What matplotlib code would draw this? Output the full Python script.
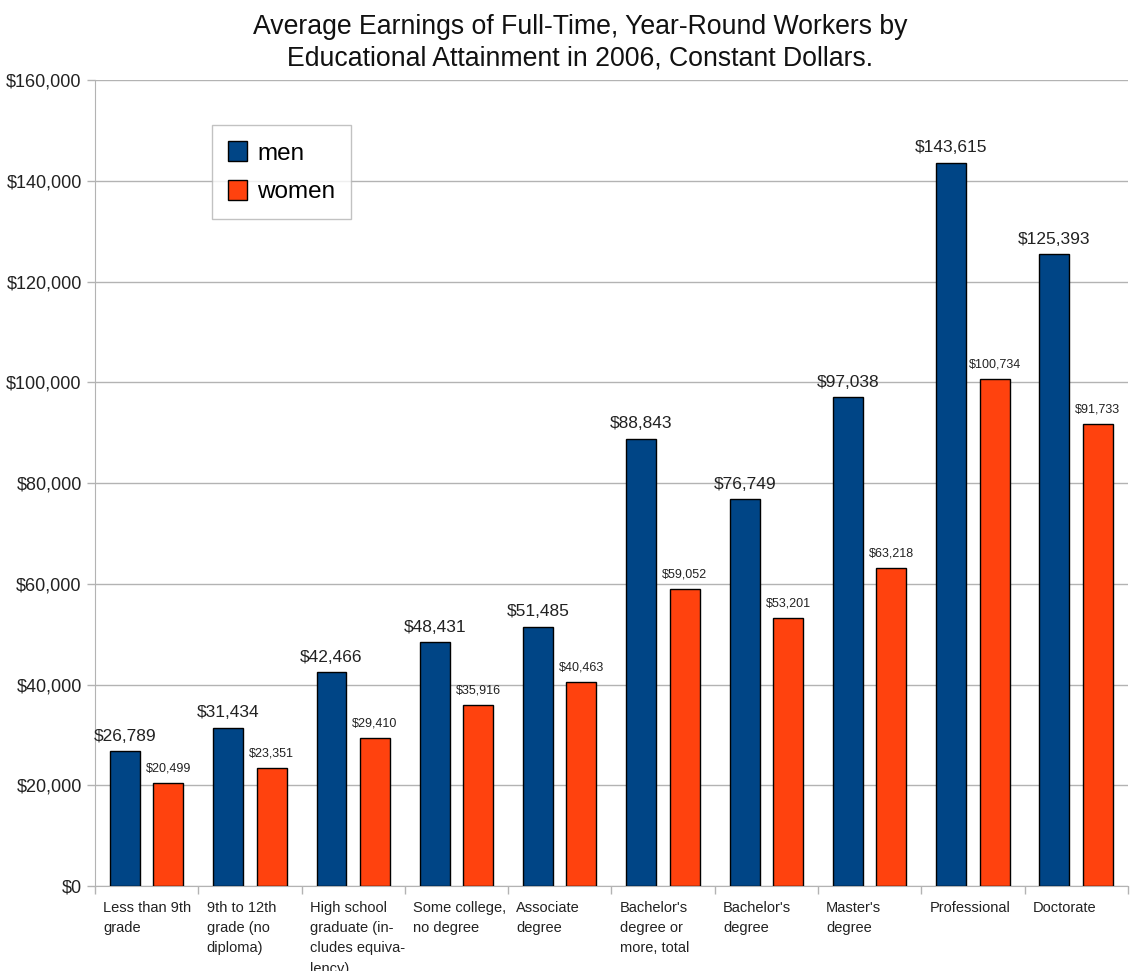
import matplotlib.pyplot as plt
import matplotlib.transforms as mtransforms
import numpy as np

plt.rcParams['font.family'] = ['Liberation Sans', 'DejaVu Sans']

# dados
categorias = ["Less than 9th\ngrade", "9th to 12th\ngrade (no\ndiploma)",
              "High school\ngraduate (in-\ncludes equiva-\nlency)",
              "Some college,\nno degree", "Associate\ndegree",
              "Bachelor's\ndegree or\nmore, total", "Bachelor's\ndegree",
              "Master's\ndegree", "Professional", "Doctorate"]
homens = [26789, 31434, 42466, 48431, 51485, 88843, 76749, 97038, 143615, 125393]
mulheres = [20499, 23351, 29410, 35916, 40463, 59052, 53201, 63218, 100734, 91733]

cor_h = "#004586"
cor_m = "#ff420e"

fig = plt.figure(figsize=(11.4, 9.71), dpi=100)
ax = fig.add_axes([0.0833, 0.0875, 0.906, 0.830])

x = np.arange(len(categorias))
larg = 0.29
ax.bar(x - 0.21, homens, larg, color=cor_h, edgecolor="black", linewidth=1, label="men", zorder=3)
ax.bar(x + 0.21, mulheres, larg, color=cor_m, edgecolor="black", linewidth=1, label="women", zorder=3)

for i, v in enumerate(homens):
    ax.text(i - 0.21, v + 1500, f"${v:,}", ha="center", va="bottom", fontsize=12.5, color="#222222")
for i, v in enumerate(mulheres):
    ax.text(i + 0.21, v + 1700, f"${v:,}", ha="center", va="bottom", fontsize=9, color="#222222")

ax.set_xlim(-0.5, len(categorias) - 0.5)
ax.set_ylim(0, 160000)
ax.set_yticks(range(0, 160001, 20000))
ax.set_yticklabels([f"${v:,}" for v in range(0, 160001, 20000)], fontsize=13, color="#222222")
ax.yaxis.grid(True, color="#b3b3b3", linewidth=1, zorder=0)
ax.tick_params(axis="y", length=6, color="#b3b3b3", width=1)

ax.set_xticks(np.arange(len(categorias) + 1) - 0.5)
ax.set_xticklabels([])
ax.tick_params(axis="x", length=6, color="#b3b3b3", width=1)

trans = mtransforms.blended_transform_factory(ax.transData, ax.transAxes)
for i, c in enumerate(categorias):
    ax.text(i - 0.42, -0.018, c, transform=trans, ha="left", va="top",
            fontsize=10.5, linespacing=1.58, color="#222222")

for s in ["top", "right"]:
    ax.spines[s].set_visible(False)
for s in ["left", "bottom"]:
    ax.spines[s].set_color("#b3b3b3")

fig.text(0.509, 0.986, "Average Earnings of Full-Time, Year-Round Workers by\nEducational Attainment in 2006, Constant Dollars.",
         ha="center", va="top", fontsize=19.2, color="#111111", linespacing=1.3)

leg = ax.legend(loc="upper left", bbox_to_anchor=(0.1133, 0.944), borderaxespad=0, fontsize=17.5,
                frameon=True, fancybox=False, edgecolor="#b3b3b3",
                handlelength=0.8, handleheight=0.9, borderpad=0.65, labelspacing=0.62,
                handletextpad=0.4)
leg.get_frame().set_linewidth(1)

fig.savefig("out.png", dpi=100)
